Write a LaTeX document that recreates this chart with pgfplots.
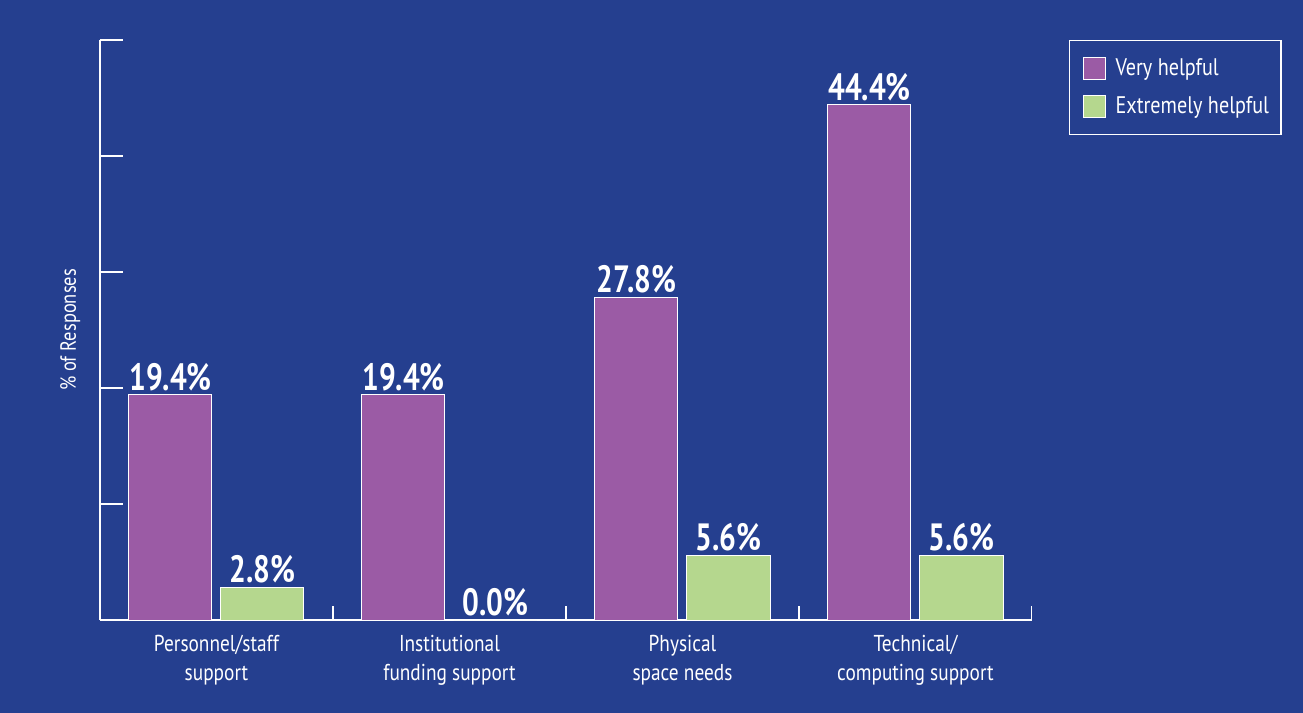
\documentclass[border=0pt]{standalone}
\usepackage{pgfplots}
\pgfplotsset{compat=1.18}
\usepackage{fontspec}
\setmainfont{PT Sans}[FakeStretch=0.84]
\newfontfamily\lblfont{PT Sans}[FakeStretch=0.78]
\definecolor{bg}{RGB}{37,63,143}
\definecolor{vhelp}{RGB}{155,91,165}
\definecolor{ehelp}{RGB}{181,215,142}
\begin{document}
\begin{tikzpicture}
\fill[bg] (0,0) rectangle (651.5pt,356.5pt);
\begin{axis}[
  at={(50pt,46.5pt)}, anchor=south west,
  scale only axis, width=466pt, height=290pt,
  xmin=-0.5, xmax=3.5, ymin=0, ymax=50,
  axis x line*=bottom, axis y line*=left,
  axis line style={-, white, line width=1.3pt},
  tick align=inside,
  major tick length=11.5pt,
  tick style={white, line width=1.3pt},
  ytick={0,10,20,30,40,50}, yticklabels={},
  xtick={0,1,2,3},
  xticklabels={Personnel/staff\\support, Institutional\\funding support, Physical\\space needs, Technical/\\computing support},
  xtick style={draw=none},
  xticklabel style={align=center, text=white, font=\fontsize{11.5}{14.5}\selectfont, yshift=7.5pt},
  ylabel={\% of Responses},
  every axis y label/.style={at={(axis description cs:-0.032,0.5)}, rotate=90, anchor=center, text=white, font=\fontsize{11}{13}\selectfont},
  ybar, bar width=41.5pt,
  nodes near coords={\pgfmathprintnumber[fixed,fixed zerofill,precision=1,assume math mode=true]{\pgfplotspointmeta}\%},
  every node near coord/.append style={text=white, font=\lblfont\bfseries\fontsize{19}{20}\selectfont, yshift=-1.5pt},
  legend style={at={(1,1)}, anchor=north west, xshift=18.5pt, draw=white, line width=0.6pt, fill=none, text=white,
    font=\fontsize{12}{14}\selectfont, inner xsep=4pt, inner ysep=7pt, row sep=5pt,
    /tikz/every odd column/.append style={column sep=3pt}},
  legend cell align=left,
  legend image code/.code={\path (0pt,0pt); \draw[#1, draw=white, line width=0.5pt] (2.5pt,-5.5pt) rectangle (13.5pt,5.5pt);},
]
\addplot[fill=vhelp, draw=white, line width=0.5pt, bar shift=-23pt] coordinates {(0,19.4) (1,19.4) (2,27.8) (3,44.4)};
\addplot[fill=ehelp, draw=white, line width=0.5pt, bar shift=23pt] coordinates {(0,2.8) (1,0.0) (2,5.6) (3,5.6)};
\legend{Very helpful, Extremely helpful}
\draw[white, line width=1.3pt] (axis cs:0.5,0) -- ++(0pt,7pt);
\draw[white, line width=1.3pt] (axis cs:1.5,0) -- ++(0pt,7pt);
\draw[white, line width=1.3pt] (axis cs:2.5,0) -- ++(0pt,7pt);
\draw[white, line width=1.3pt] (axis cs:3.5,0) -- ++(0pt,7pt);
\end{axis}
\end{tikzpicture}
\end{document}
